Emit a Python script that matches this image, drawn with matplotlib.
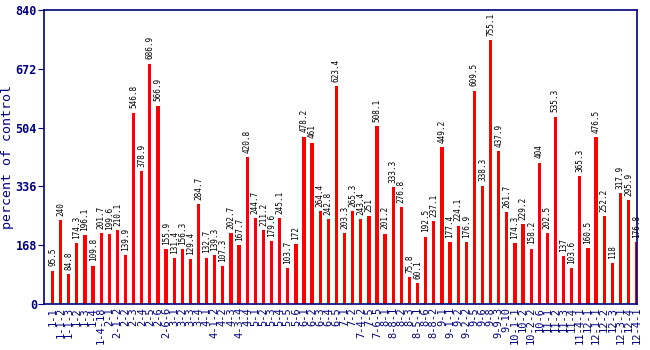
import numpy as np
import matplotlib
matplotlib.use("Agg")
import matplotlib.pyplot as plt

labels = ["1-1", "1-1-2", "1-1-3", "1-2", "1-3", "1-4", "1-4-18", "2-1", "2-1-2", "2-2",
          "2-3", "2-4", "2-5", "2-6", "2-6-6", "3-1", "3-2", "3-3", "3-4", "4-1",
          "4-1-2", "4-2", "4-3", "4-3-4", "4-4", "5-1", "5-2", "5-3", "5-4", "5-5",
          "5-6", "6-1", "6-2", "6-3", "6-4", "6-5", "7-1", "7-2", "7-4-2", "7-5",
          "7-6-5", "8-1", "8-8-1", "8-2", "8-3", "8-5-1", "8-6", "8-8-2", "9-1", "9-1-1",
          "9-2", "9-2-2", "9-5", "9-6", "9-8", "9-9-3", "9-10", "10-1-1", "10-2", "10-2-2",
          "10-6", "11-1", "11-2", "11-3", "11-4", "11-4-1", "12-1", "12-1-1", "12-2", "12-3",
          "12-3-1", "12-4", "12-4-1"]
values = [95.5, 240, 84.8, 174.3, 196.1, 109.8, 201.7, 199.6, 210.1, 139.9,
          546.8, 378.9, 686.9, 566.9, 155.9, 131.4, 156.3, 129.4, 284.7, 132.7,
          139.3, 107.3, 202.7, 167.7, 420.8, 244.7, 211.2, 179.6, 245.1, 103.7,
          172, 478.2, 461, 264.4, 242.8, 623.4, 203.3, 265.3, 243.4, 251,
          508.1, 201.2, 333.3, 276.8, 75.8, 60.1, 192.5, 237.1, 449.2, 177.4,
          224.1, 176.9, 609.5, 338.3, 755.1, 437.9, 261.7, 174.3, 229.2, 158.2,
          404, 202.5, 535.3, 137, 103.6, 365.3, 160.5, 476.5, 252.2, 118,
          317.9, 295.9, 176.8]
yticks = [0, 168, 336, 504, 672, 840]

navy = "#000080"
mono = "DejaVu Sans Mono"

fig = plt.figure(figsize=(6.5, 3.5), dpi=100)
ax = fig.add_axes([0.0677, 0.1314, 0.9123, 0.8400])

x = np.arange(len(values))
ax.bar(x, values, width=0.4, color="#ff0000")
for xi, v in zip(x, values):
    ax.text(xi, v + 12, "{:g}".format(v), rotation=90, ha="center", va="bottom",
            fontsize=5.6, family=mono, color="black")

ax.set_xlim(-1.05, len(values) - 0.95)
ax.set_ylim(0, 840)
ax.set_yticks(yticks)
ax.set_yticklabels([str(t) for t in yticks], family=mono, fontsize=8.5,
                   fontweight="bold", color=navy)
ax.set_xticks(x)
ax.set_xticklabels(labels, rotation=90, family=mono, fontsize=7.5, color=navy)
ax.tick_params(axis="y", direction="out", length=4, color=navy, pad=1)
ax.tick_params(axis="x", length=0, pad=2)
for s in ax.spines.values():
    s.set_color(navy)
    s.set_linewidth(1.2)
ax.set_ylabel("percent of control", family=mono, fontsize=9.5, color=navy)
ax.yaxis.set_label_coords(-0.05, 0.5)

fig.savefig("out.png", dpi=100)
